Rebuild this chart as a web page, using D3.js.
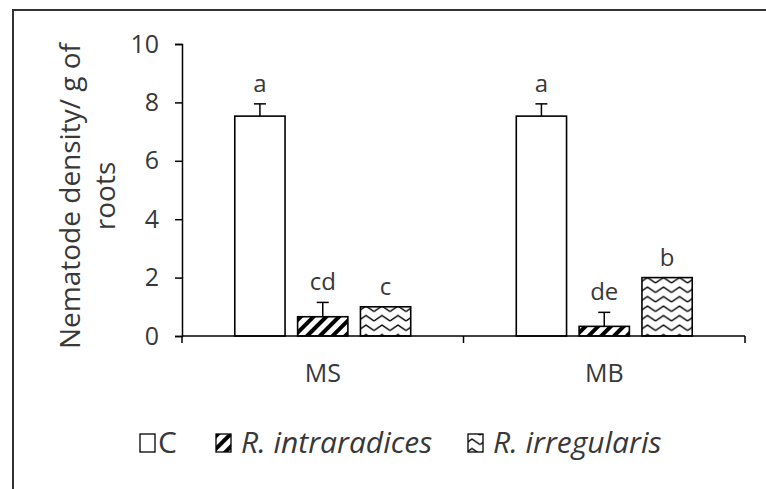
<!DOCTYPE html>
<html>
<head>
<meta charset="utf-8">
<script src="https://cdn.jsdelivr.net/npm/d3@7"></script>
<style>
  html, body { margin: 0; padding: 0; background: #fff; }
  svg { display: block; }
  text { font-family: "Open Sans", sans-serif; fill: #383838; }
</style>
</head>
<body>
<svg id="chart" width="766" height="489"></svg>
<script>
const categories = ["MS", "MB"];
const seriesNames = ["C", "R. intraradices", "R. irregularis"];
const valuesC = [7.53, 7.53];
const valuesRint = [0.66, 0.33];
const valuesRirr = [1.0, 2.0];
const errorsC = [0.42, 0.42];
const errorsRint = [0.49, 0.48];
const errorsRirr = [0, 0];
const lettersC = ["a", "a"];
const lettersRint = ["cd", "de"];
const lettersRirr = ["c", "b"];
const yTicks = [0, 2, 4, 6, 8, 10];

const seriesValues = [valuesC, valuesRint, valuesRirr];
const seriesErrors = [errorsC, errorsRint, errorsRirr];
const seriesLetters = [lettersC, lettersRint, lettersRirr];
const seriesFills = ["#fff", "url(#stripes)", "url(#zigzag)"];

const svg = d3.select("#chart");

// patterns
const defs = svg.append("defs");
const stripes = defs.append("pattern")
  .attr("id", "stripes").attr("patternUnits", "userSpaceOnUse")
  .attr("width", 9).attr("height", 9)
  .attr("patternTransform", "rotate(45)");
stripes.append("rect").attr("width", 9).attr("height", 9).attr("fill", "#fff");
stripes.append("rect").attr("width", 4).attr("height", 9).attr("fill", "#000");

const zig = defs.append("pattern")
  .attr("id", "zigzag").attr("patternUnits", "userSpaceOnUse")
  .attr("width", 16).attr("height", 9.5);
zig.append("rect").attr("width", 16).attr("height", 9.5).attr("fill", "#fff");
zig.append("path").attr("d", "M0,7.5 L8,2 L16,7.5").attr("fill", "none")
  .attr("stroke", "#000").attr("stroke-width", 1.4);

// outer border
svg.append("rect").attr("x", 13).attr("y", 10).attr("width", 800).attr("height", 520)
  .attr("fill", "none").attr("stroke", "#333").attr("stroke-width", 2);

const x0 = d3.scaleBand().domain(categories).range([182, 745]).paddingInner(0).paddingOuter(0);
const x1 = d3.scaleBand().domain(d3.range(seriesNames.length))
  .range([0, x0.bandwidth()]).paddingInner(0.2).paddingOuter(0.84);
const y = d3.scaleLinear().domain([0, 10]).range([336, 44]);

// y axis
const yAxis = svg.append("g").attr("transform", "translate(182,0)")
  .call(d3.axisLeft(y).tickValues(yTicks).tickSize(7).tickPadding(16));
yAxis.select(".domain").attr("stroke", "#000").attr("stroke-width", 1.5);
yAxis.selectAll(".tick line").attr("stroke", "#000").attr("stroke-width", 1.5);
yAxis.selectAll(".tick text").style("font-size", "25px").attr("fill", "#383838")
  .style("font-family", "'Open Sans', sans-serif");

// bars
categories.forEach((cat, ci) => {
  const g = svg.append("g").attr("transform", `translate(${x0(cat)},0)`);
  seriesNames.forEach((s, si) => {
    const v = seriesValues[si][ci];
    const e = seriesErrors[si][ci];
    const bx = x1(si), bw = x1.bandwidth();
    g.append("rect").attr("x", bx).attr("y", y(v)).attr("width", bw).attr("height", y(0) - y(v))
      .attr("fill", seriesFills[si]).attr("stroke", "#000").attr("stroke-width", 1.6);
    if (e > 0) {
      const cx = bx + bw / 2;
      g.append("line").attr("x1", cx).attr("x2", cx).attr("y1", y(v)).attr("y2", y(v + e))
        .attr("stroke", "#000").attr("stroke-width", 1.5);
      g.append("line").attr("x1", cx - 6).attr("x2", cx + 6).attr("y1", y(v + e)).attr("y2", y(v + e))
        .attr("stroke", "#000").attr("stroke-width", 1.5);
    }
    g.append("text").attr("x", bx + bw / 2).attr("y", y(v + e) - 12)
      .attr("text-anchor", "middle").style("font-size", "24px").text(seriesLetters[si][ci]);
  });
});

// x axis
const xAxis = svg.append("g").attr("transform", "translate(0,336)");
xAxis.append("line").attr("x1", 182).attr("x2", 745).attr("stroke", "#000").attr("stroke-width", 1.5);
const edges = [x0.range()[0]].concat(categories.map(c => x0(c) + x0.bandwidth()));
xAxis.selectAll(".xt").data(edges).enter().append("line")
  .attr("x1", d => d).attr("x2", d => d).attr("y1", 0).attr("y2", 7)
  .attr("stroke", "#000").attr("stroke-width", 1.5);
xAxis.selectAll(".xl").data(categories).enter().append("text")
  .attr("x", d => x0(d) + x0.bandwidth() / 2).attr("y", 46)
  .attr("text-anchor", "middle").style("font-size", "25px").text(d => d);

// y title
const yt = svg.append("text").attr("transform", "translate(80,196) rotate(-90)")
  .attr("text-anchor", "middle").style("font-size", "28px");
yt.append("tspan").attr("x", 0).attr("dy", 0).text("Nematode density/ g of");
yt.append("tspan").attr("x", 0).attr("dy", 35).text("roots");

// legend
const legendX = [140, 216, 468];
const leg = svg.append("g");
seriesNames.forEach((s, si) => {
  leg.append("rect").attr("x", legendX[si]).attr("y", 434).attr("width", 15).attr("height", 18)
    .attr("fill", seriesFills[si]).attr("stroke", "#000").attr("stroke-width", 1.3);
  leg.append("text").attr("x", legendX[si] + (si === 0 ? 18 : 25)).attr("y", 453)
    .style("font-size", "30px").style("font-style", si === 0 ? "normal" : "italic").text(s);
});
</script>
</body>
</html>
